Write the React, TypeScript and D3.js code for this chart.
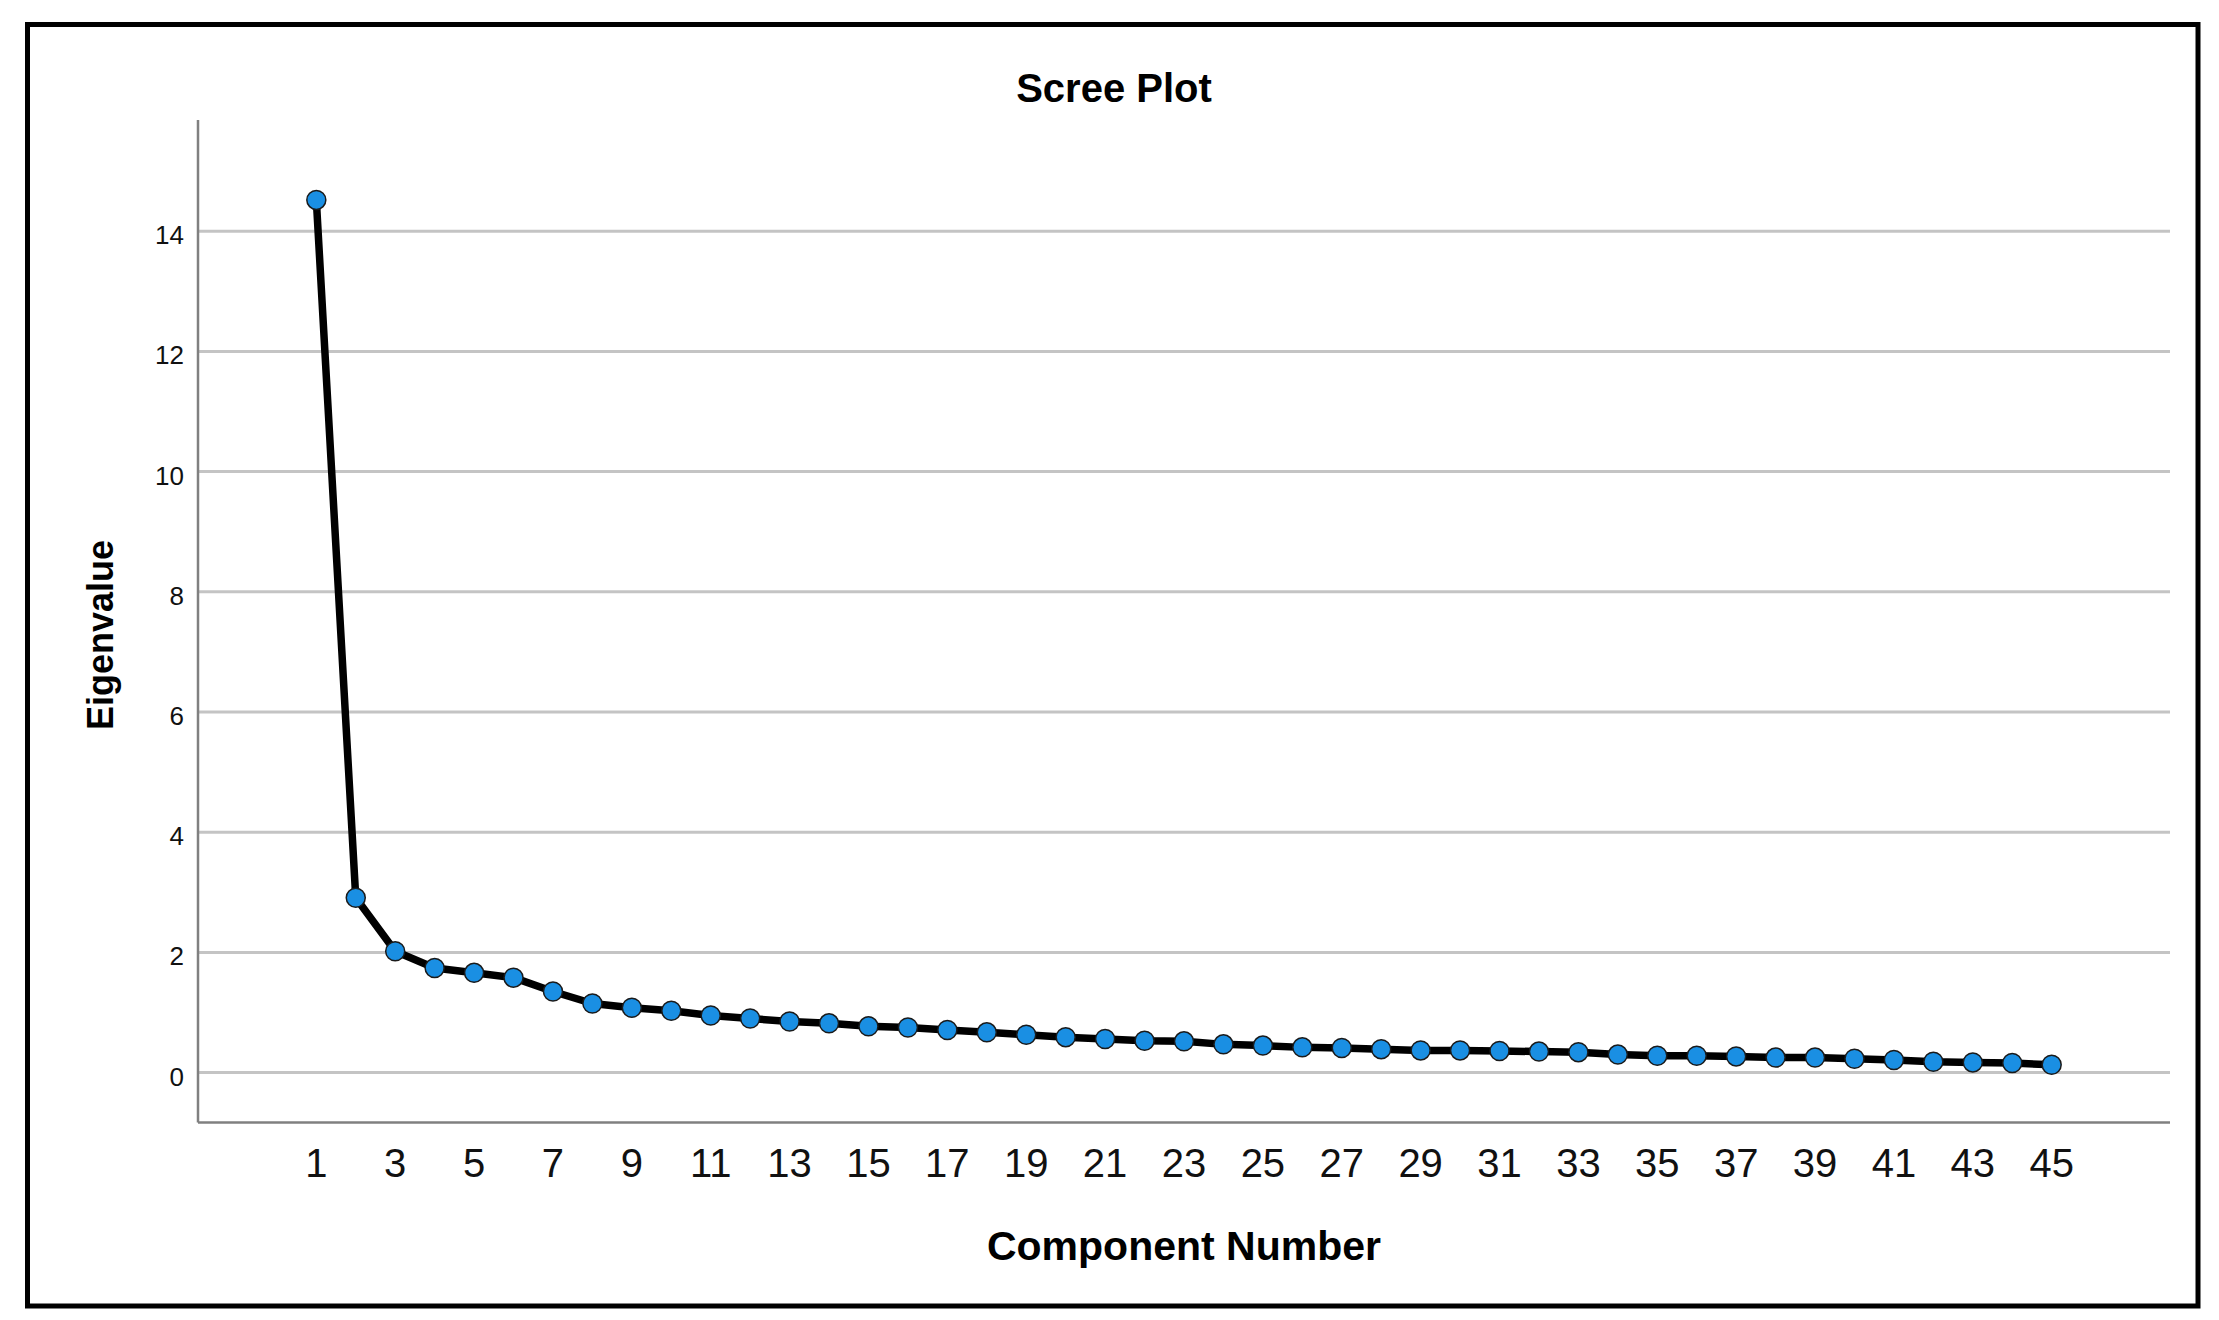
import React from "react";
import * as d3 from "d3";

const components: number[] = [
  1, 2, 3, 4, 5, 6, 7, 8, 9, 10, 11, 12, 13, 14, 15, 16, 17, 18, 19, 20, 21, 22, 23,
  24, 25, 26, 27, 28, 29, 30, 31, 32, 33, 34, 35, 36, 37, 38, 39, 40, 41, 42, 43, 44, 45,
];
const eigenvalues: number[] = [
  14.52, 2.91, 2.02, 1.74, 1.66, 1.58, 1.35, 1.15, 1.08, 1.03, 0.95, 0.9, 0.85, 0.82,
  0.77, 0.75, 0.71, 0.67, 0.63, 0.59, 0.56, 0.53, 0.52, 0.47, 0.45, 0.42, 0.41, 0.39,
  0.37, 0.37, 0.36, 0.35, 0.34, 0.3, 0.28, 0.28, 0.27, 0.25, 0.25, 0.23, 0.21, 0.18,
  0.17, 0.16, 0.13,
];
const xTicks: number[] = [
  1, 3, 5, 7, 9, 11, 13, 15, 17, 19, 21, 23, 25, 27, 29, 31, 33, 35, 37, 39, 41, 43, 45,
];
const yTicks: number[] = [0, 2, 4, 6, 8, 10, 12, 14];
const title = "Scree Plot";
const xTitle = "Component Number";
const yTitle = "Eigenvalue";

const W = 2219;
const H = 1320;
const plotLeft = 198;
const plotRight = 2170;
const plotTop = 120;
const plotBottom = 1122.5;
const FONT = "'Liberation Sans', Arial, Helvetica, sans-serif";

export default function App() {
  const x = d3.scaleLinear().domain([-2, 48]).range([plotLeft, plotRight]);
  const y = d3.scaleLinear().domain([-0.83, 15.85]).range([plotBottom, plotTop]);
  const pts = components.map((c, i) => ({ c, v: eigenvalues[i] }));
  const line = d3
    .line<{ c: number; v: number }>()
    .x((d) => x(d.c))
    .y((d) => y(d.v));

  return (
    <svg
      width={W}
      height={H}
      style={{ position: "absolute", left: 0, top: 0, background: "#fff" }}
      fontFamily={FONT}
    >
      <rect x={0} y={0} width={W} height={H} fill="#fff" />
      <rect
        x={27.5}
        y={24.5}
        width={2198 - 27.5}
        height={1306 - 24.5}
        fill="none"
        stroke="#000"
        strokeWidth={5}
      />
      <text x={1114} y={102} textAnchor="middle" fontSize={40} fontWeight="bold" fill="#000">
        {title}
      </text>

      {yTicks.map((t) => (
        <line
          key={"g" + t}
          x1={plotLeft}
          x2={plotRight}
          y1={y(t)}
          y2={y(t)}
          stroke="#c4c4c4"
          strokeWidth={3}
        />
      ))}
      {yTicks.map((t) => (
        <text
          key={"yl" + t}
          x={184}
          y={y(t) + 13}
          textAnchor="end"
          fontSize={26}
          fill="#111"
        >
          {t}
        </text>
      ))}

      <line x1={plotLeft} x2={plotLeft} y1={plotTop} y2={plotBottom} stroke="#808080" strokeWidth={2.5} />
      <line x1={plotLeft} x2={plotRight} y1={plotBottom} y2={plotBottom} stroke="#808080" strokeWidth={2.5} />

      {xTicks.map((t) => (
        <text key={"xl" + t} x={x(t)} y={1177} textAnchor="middle" fontSize={40} fill="#111">
          {t}
        </text>
      ))}

      <text x={1184} y={1260} textAnchor="middle" fontSize={41} fontWeight="bold" fill="#000">
        {xTitle}
      </text>
      <text
        transform={`translate(113, 635) rotate(-90)`}
        textAnchor="middle"
        fontSize={36}
        fontWeight="bold"
        fill="#000"
      >
        {yTitle}
      </text>

      <path
        d={line(pts) || ""}
        fill="none"
        stroke="#000"
        strokeWidth={7.5}
        strokeLinejoin="round"
        strokeLinecap="round"
      />
      {pts.map((p) => (
        <circle
          key={"p" + p.c}
          cx={x(p.c)}
          cy={y(p.v)}
          r={9.5}
          fill="#1a8fe3"
          stroke="#1a1a1a"
          strokeWidth={1.5}
        />
      ))}
    </svg>
  );
}
